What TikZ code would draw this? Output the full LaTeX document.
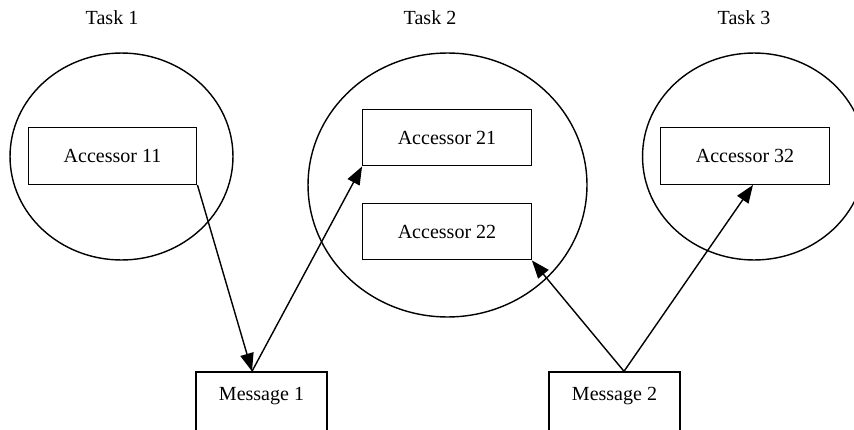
\documentclass[tikz,border=0pt]{standalone}
\usepackage{fontspec}
\setmainfont{Liberation Serif}
\usetikzlibrary{positioning,arrows.meta,shapes.geometric,calc}

\begin{document}
\begin{tikzpicture}[
  x=0.02cm,y=-0.02cm,
  task/.style={ellipse,draw,line width=0.8pt,inner sep=0pt,minimum width=#1},
  acc/.style={rectangle,draw,line width=0.8pt,minimum width=3.37cm,minimum height=1.13cm,font=\fontsize{11.4}{13}\selectfont},
  msg/.style={rectangle,draw,line width=0.8pt,minimum width=2.62cm,minimum height=1.24cm,text depth=0.35cm,font=\fontsize{11.4}{13}\selectfont},
  tasklab/.style={font=\fontsize{11.4}{13}\selectfont},
  pass/.style={-{Triangle[length=0.36cm,width=0.27cm]},line width=0.8pt},
]
\useasboundingbox (0,0) rectangle (854,429);

% Task 1
\node[task=4.46cm,minimum height=4.14cm] (task1) at (121.5,156.5) {};
\node[tasklab] (lab1) at (112,18) {Task 1};
\node[acc] (acc11) at (112.5,156) {Accessor 11};

% Task 2
\node[task=5.58cm,minimum height=5.28cm] (task2) at (447.5,185) {};
\node[tasklab] (lab2) at (430,18) {Task 2};
\node[acc] (acc21) at (447,137.5) {Accessor 21};
\node[acc] (acc22) at (447,231.5) {Accessor 22};

% Task 3
\node[task=4.46cm,minimum height=4.14cm] (task3) at (754,156.5) {};
\node[tasklab] (lab3) at (744,18) {Task 3};
\node[acc] (acc32) at (745,156) {Accessor 32};

% Messages
\node[msg] (msg1) at (261.5,403) {Message 1};
\node[msg] (msg2) at (614.5,403) {Message 2};

% Connectors
\draw[pass] (acc11.south east) -- ([xshift=-0.19cm]msg1.north);
\draw[pass] ([xshift=-0.19cm]msg1.north) -- (acc21.south west);
\draw[pass] ([xshift=0.19cm]msg2.north) -- (acc22.south east);
\draw[pass] ([xshift=0.19cm]msg2.north) -- ([xshift=0.16cm]acc32.south);
\end{tikzpicture}
\end{document}
